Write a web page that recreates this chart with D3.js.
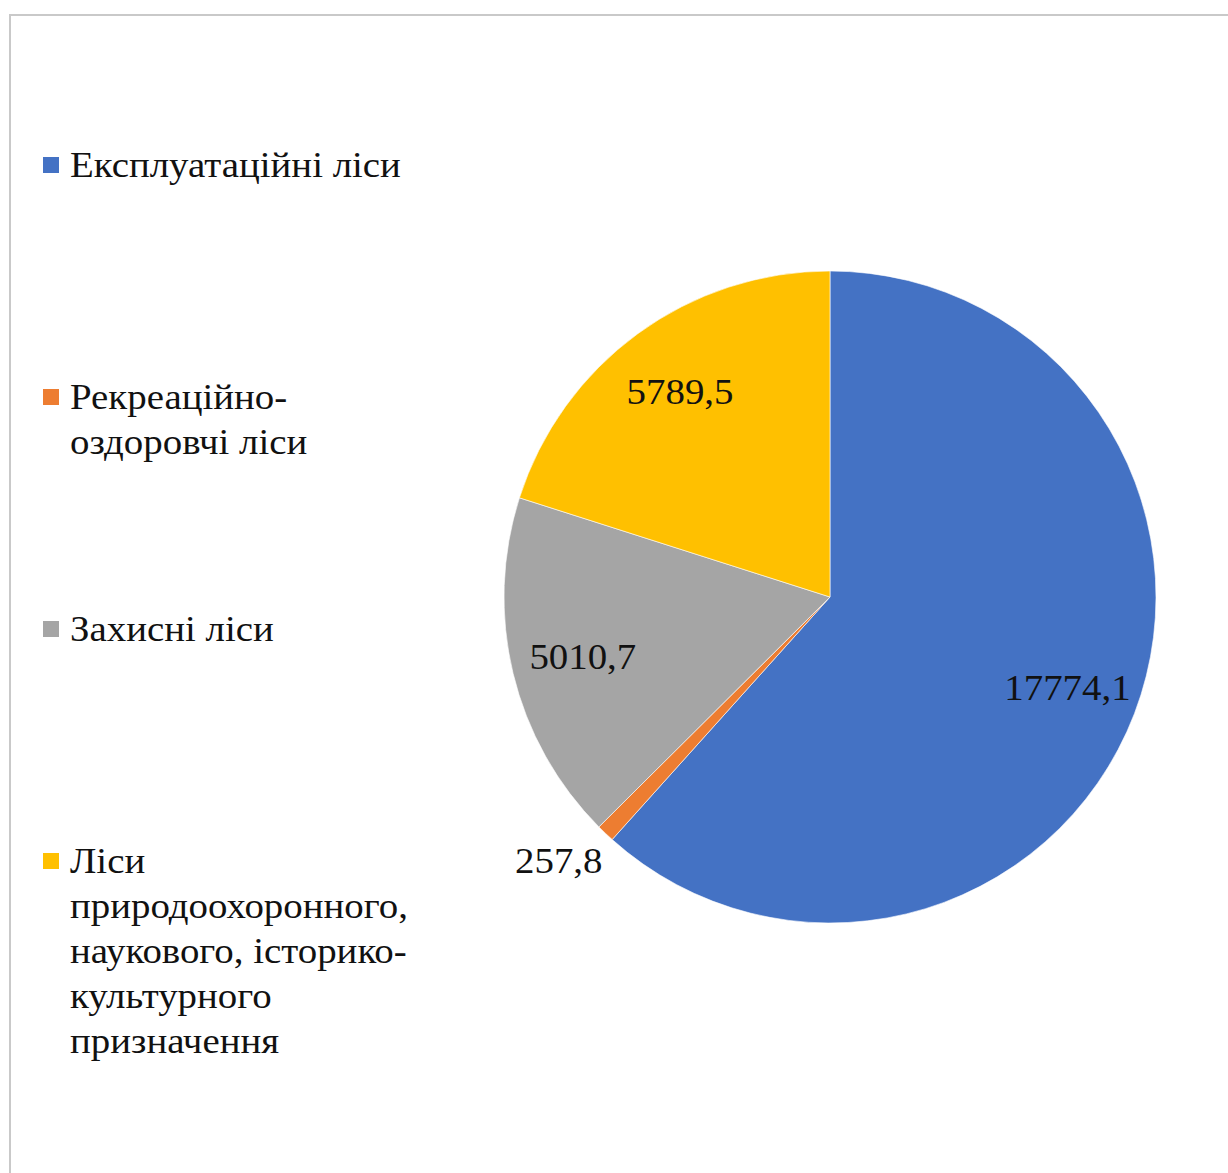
<!DOCTYPE html>
<html lang="uk">
<head>
<meta charset="utf-8">
<script src="https://cdn.jsdelivr.net/npm/d3@7"></script>
<style>
  html, body { margin: 0; padding: 0; background: #fff; }
  svg { display: block; }
  text { font-family: "Liberation Serif", "Times New Roman", serif; fill: #111; }
</style>
</head>
<body>
<svg id="chart" width="1228" height="1173"></svg>
<script>
// Forest categories (thousand ha) and their values
const categories = [
  "Експлуатаційні ліси",
  "Рекреаційно-оздоровчі ліси",
  "Захисні ліси",
  "Ліси природоохоронного, наукового, історико-культурного призначення"
];
const values = [17774.1, 257.8, 5010.7, 5789.5];
const valueLabels = ["17774,1", "257,8", "5010,7", "5789,5"];
// Legend lines, as wrapped in the legend column
const legendLines = [
  ["Експлуатаційні ліси"],
  ["Рекреаційно-", "оздоровчі ліси"],
  ["Захисні ліси"],
  ["Ліси", "природоохоронного,", "наукового, історико-", "культурного", "призначення"]
];
const colors = ["#4472C4", "#ED7D31", "#A5A5A5", "#FFC000"];

const svg = d3.select("#chart");
const W = 1228, H = 1173;
const textStretch = 1.08;   // wide serif glyphs

// Chart frame
svg.append("rect")
  .attr("x", 10).attr("y", 15)
  .attr("width", W + 20).attr("height", H + 20)
  .attr("fill", "#fff")
  .attr("stroke", "#c9c9c9")
  .attr("stroke-width", 2);

// Pie
const cx = 830, cy = 597, R = 326;
const pie = d3.pie().sort(null).value(d => d.value);
const data = pie(categories.map((c, i) => ({ name: c, value: values[i], label: valueLabels[i], color: colors[i] })));
const arc = d3.arc().innerRadius(0).outerRadius(R);

const g = svg.append("g").attr("transform", `translate(${cx},${cy})`);
g.selectAll("path.slice")
  .data(data)
  .join("path")
  .attr("class", "slice")
  .attr("d", arc)
  .attr("fill", d => d.data.color)
  .attr("stroke", "#fff")
  .attr("stroke-width", 0.6);

// Data labels: inside for large slices, outside for the thin one
const isThin = d => (d.endAngle - d.startAngle) < 0.2;
const labelRadius = d => isThin(d) ? R * 1.16 : R * 0.78;
const labelAngle = d => (d.startAngle + d.endAngle) / 2 + (isThin(d) ? 0.04 : 0);
g.selectAll("text.value")
  .data(data)
  .join("text")
  .attr("class", "value")
  .attr("transform", d => {
    const a = labelAngle(d);
    const r = labelRadius(d);
    return `translate(${r * Math.sin(a)},${-r * Math.cos(a)}) scale(${textStretch},1)`;
  })
  .attr("text-anchor", "middle")
  .attr("dominant-baseline", "central")
  .attr("font-size", 36)
  .text(d => d.data.label);

// Legend
const legendY = [165, 397, 629, 861];
const lineH = 45;
const legend = svg.append("g");
categories.forEach((c, i) => {
  const item = legend.append("g");
  item.append("rect")
    .attr("x", 43).attr("y", legendY[i] - 8)
    .attr("width", 16).attr("height", 16)
    .attr("fill", colors[i]);
  const t = item.append("text")
    .attr("transform", `translate(70,0) scale(${textStretch},1)`)
    .attr("font-size", 36);
  legendLines[i].forEach((ln, k) => {
    t.append("tspan")
      .attr("x", 0)
      .attr("y", legendY[i] + k * lineH)
      .attr("dominant-baseline", "central")
      .text(ln);
  });
});
</script>
</body>
</html>
